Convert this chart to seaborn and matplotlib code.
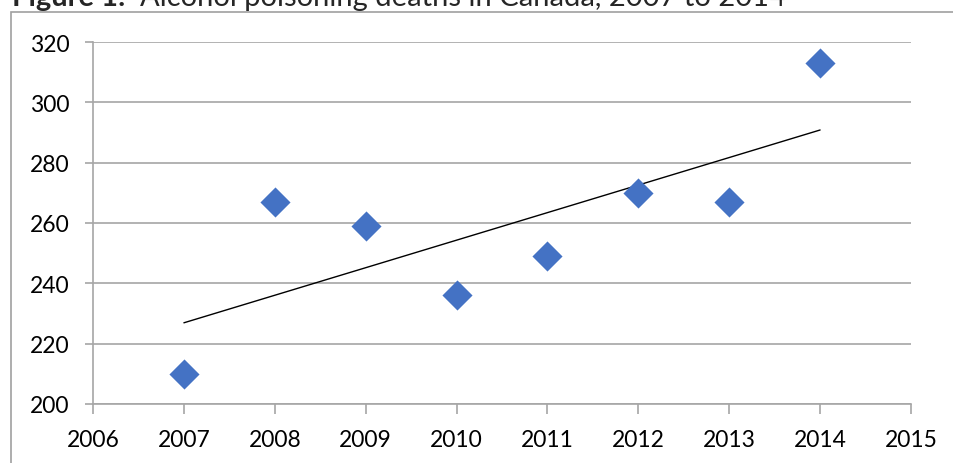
import matplotlib
matplotlib.use("Agg")
import matplotlib.pyplot as plt
import seaborn as sns
import pandas as pd
from matplotlib.patches import Rectangle

years = [2007, 2008, 2009, 2010, 2011, 2012, 2013, 2014]
deaths = [210, 267, 259, 236, 249, 270, 267, 313]
x_ticks = [2006, 2007, 2008, 2009, 2010, 2011, 2012, 2013, 2014, 2015]
y_ticks = [200, 220, 240, 260, 280, 300, 320]

df = pd.DataFrame({"year": years, "deaths": deaths})

sns.set_theme(style="white")
plt.rcParams["font.family"] = ["Lato", "DejaVu Sans"]

W, H = 954, 464
fig = plt.figure(figsize=(W / 100, H / 100), dpi=100)
ax = fig.add_axes([93 / W, 1 - 405 / H, (911 - 93) / W, (405 - 43) / H])

grid_c = "#a6a6a6"
sns.regplot(
    data=df, x="year", y="deaths", ax=ax, ci=None, truncate=True,
    marker="D",
    scatter_kws={"s": 235, "color": "#4472C4", "alpha": 1.0,
                 "linewidths": 0, "zorder": 3},
    line_kws={"color": "black", "linewidth": 1.0, "zorder": 2},
)

ax.set_xlim(2006, 2015)
ax.set_ylim(200, 320)
ax.set_xticks(x_ticks)
ax.set_yticks(y_ticks)
ax.set_xlabel("")
ax.set_ylabel("")
ax.yaxis.grid(True, color=grid_c, linewidth=1.2)
ax.set_axisbelow(True)
for side in ["top", "right"]:
    ax.spines[side].set_visible(False)
for side in ["left", "bottom"]:
    ax.spines[side].set_color(grid_c)
    ax.spines[side].set_linewidth(1.2)
ax.tick_params(axis="both", which="major", direction="out", length=6,
               width=1.2, color=grid_c, labelsize=16.5, labelcolor="black")
ax.tick_params(axis="x", length=7, pad=11)
ax.tick_params(axis="y", pad=11)
ax.xaxis.set_ticks_position("bottom")
ax.yaxis.set_ticks_position("left")

# chart border
fig.patches.append(Rectangle((11 / W, -0.1), 1.1, 1 - 13 / H + 0.1,
                             transform=fig.transFigure, fill=False,
                             edgecolor="#a0a0a0", linewidth=1.2))

fig.text(12 / W, 1 - 6 / H, "Figure 1:", fontsize=21, fontweight="bold",
         va="baseline", ha="left")
fig.text(140 / W, 1 - 6 / H, "Alcohol poisoning deaths in Canada, 2007 to 2014",
         fontsize=21, va="baseline", ha="left")

fig.savefig("out.png", dpi=100)
